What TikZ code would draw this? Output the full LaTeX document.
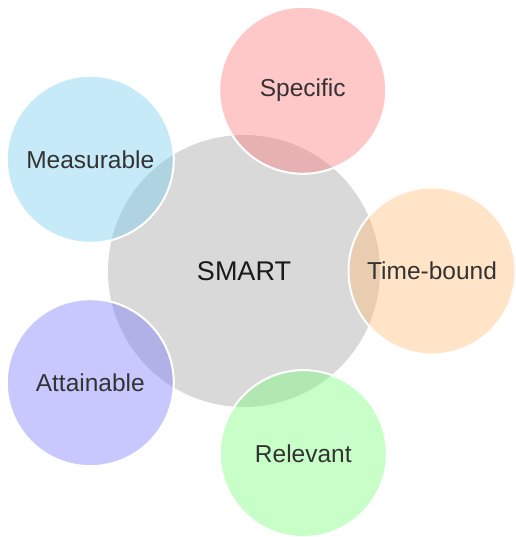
\documentclass[tikz,border=0pt]{standalone}
\usepackage{fontspec}
\setmainfont{Liberation Sans}
\usepackage{tikz}

\definecolor{hubgray}{HTML}{D9D9D9}
\definecolor{txtgray}{HTML}{333333}
\definecolor{cpink}{RGB}{255,117,117}
\definecolor{corange}{RGB}{255,188,117}
\definecolor{cgreen}{RGB}{117,255,117}
\definecolor{cpurple}{RGB}{117,117,255}
\definecolor{cblue}{RGB}{113,203,237}

\tikzset{
    hub/.style={circle, fill=hubgray, minimum size=272pt, inner sep=0pt,
        font=\fontsize{27}{32}\selectfont, text=black!90},
    letter/.style={circle, fill=#1, fill opacity=0.4, text opacity=1,
        draw=white, draw opacity=1, line width=2pt, minimum size=167pt,
        inner sep=0pt, font=\fontsize{24.5}{30}\selectfont, text=txtgray}
}

\begin{document}
\begin{tikzpicture}
    \useasboundingbox (-244pt,-266pt) rectangle (271pt,271pt);
    \node[hub] (SMART) at (0,0) {SMART};
    \node[letter=cpink] (S) at (72:190pt) {Specific};
    \node[letter=cblue] (M) at (144:190pt) {Measurable};
    \node[letter=cpurple] (A) at (216:190pt) {Attainable};
    \node[letter=cgreen] (R) at (288:192pt) {Relevant};
    \node[letter=corange] (T) at (0:188pt) {Time-bound};
\end{tikzpicture}
\end{document}
